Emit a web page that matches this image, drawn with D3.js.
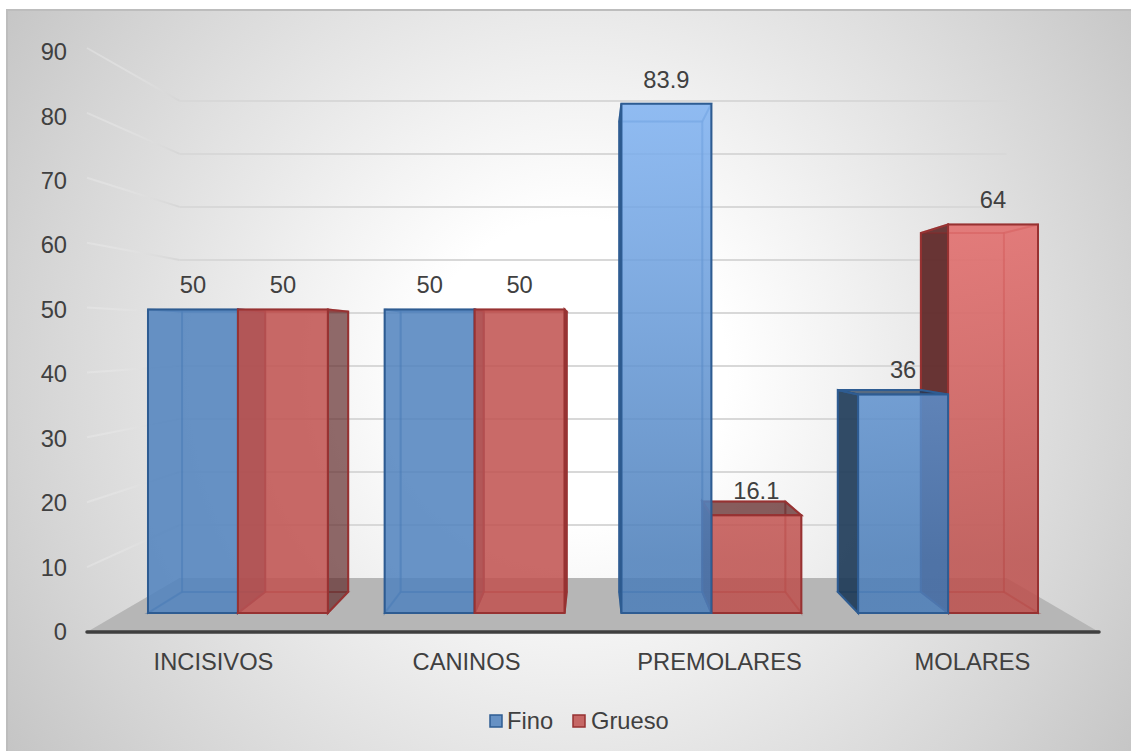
<!DOCTYPE html>
<html lang="es">
<head>
<meta charset="utf-8">
<title>Fino y Grueso por grupo dental</title>
<script src="https://cdn.jsdelivr.net/npm/d3@7"></script>
<style>
  html, body { margin: 0; padding: 0; background: #fff; }
  svg { display: block; }
  text { font-family: "Liberation Sans", Arial, sans-serif; font-size: 23.7px; fill: #404040; }
</style>
</head>
<body>
<div id="chart"></div>
<script>
// Chart values
const categories = ["INCISIVOS", "CANINOS", "PREMOLARES", "MOLARES"];
const fino = [50, 50, 83.9, 36];
const grueso = [50, 50, 16.1, 64];
const seriesNames = ["Fino", "Grueso"];
const yTicks = [0, 10, 20, 30, 40, 50, 60, 70, 80, 90];

const W = 1131, H = 751;
const svg = d3.select("#chart").append("svg").attr("width", W).attr("height", H);
const defs = svg.append("defs");

// Scales on the front plane of the 3-D box
const y = d3.scaleLinear().domain([0, 90]).range([632, 48]);
const x0 = d3.scaleBand().domain(categories).range([87, 1099]).paddingInner(0.24).paddingOuter(0.12);
const x1 = d3.scaleBand().domain(seriesNames).range([0, x0.bandwidth()]);
// Tick labels sit on a slightly tighter scale than the front plane
const yLabels = d3.scaleLinear().domain([0, 90]).range([632, 52]);

// Perspective: everything recedes toward a single vanishing point
const vanish = { x: 593, y: 337 };
const BACK_SCALE = 0.817, BAR_FRONT = 0.9356, BAR_BACK = 0.864;
const project = (px, py, s) => [vanish.x + (px - vanish.x) * s, vanish.y + (py - vanish.y) * s];
const polyPath = pts => d3.line()(pts) + "Z";

// Panel background
const bg = defs.append("radialGradient").attr("id", "panelBg")
  .attr("gradientUnits", "userSpaceOnUse").attr("cx", 575).attr("cy", 370).attr("r", 690);
[[0.22, "#ffffff"], [0.4, "#f2f2f2"], [0.6, "#e3e3e3"], [0.8, "#d4d4d4"], [1, "#c4c4c4"]]
  .forEach(([o, c]) => bg.append("stop").attr("offset", o).attr("stop-color", c));
svg.append("rect").attr("x", 7).attr("y", 10).attr("width", W).attr("height", H)
  .attr("fill", "url(#panelBg)").attr("stroke", "#bdbdbd").attr("stroke-width", 2);

// Side-wall fade for the gridlines
const fade = defs.append("linearGradient").attr("id", "wallFade")
  .attr("gradientUnits", "userSpaceOnUse").attr("x1", 87).attr("x2", 180).attr("y1", 0).attr("y2", 0);
fade.append("stop").attr("offset", 0).attr("stop-color", "#eeeeee").attr("stop-opacity", 0.35);
fade.append("stop").attr("offset", 1).attr("stop-color", "#d6d6d6");

// Floor of the box
svg.append("path").attr("fill", "#b6b6b6").attr("d", polyPath([
  project(87, y(0), 1), project(1099, y(0), 1),
  project(1099, y(0), BACK_SCALE), project(87, y(0), BACK_SCALE)
]));

// Gridlines: faded along the left wall, solid along the back wall
const grid = svg.append("g");
yTicks.filter(v => v > 0).forEach(v => {
  const a = project(87, y(v), 1), b = project(87, y(v), BACK_SCALE), c = project(1099, y(v), BACK_SCALE);
  grid.append("path").attr("d", d3.line()([a, b]))
    .attr("fill", "none").attr("stroke", "url(#wallFade)").attr("stroke-width", 2);
  grid.append("path").attr("d", d3.line()([b, c]))
    .attr("fill", "none").attr("stroke", "#d8d8d8").attr("stroke-width", 2);
});

// Face colours per series
const palette = {
  Fino:   { base: "#4f81bd", lit: "#7fb2f2", litEnd: "#4a7db9", edge: "#2e5c92", dark: "#1c3857" },
  Grueso: { base: "#c0504d", lit: "#f07373", litEnd: "#bd4f4c", edge: "#973232", dark: "#5a2020" }
};
const FRONT_ALPHA = 0.85;

seriesNames.forEach(name => {
  const g = defs.append("linearGradient").attr("id", "lit" + name)
    .attr("gradientUnits", "userSpaceOnUse").attr("x1", 0).attr("x2", 0).attr("y1", 100).attr("y2", 560);
  g.append("stop").attr("offset", 0).attr("stop-color", palette[name].lit);
  g.append("stop").attr("offset", 1).attr("stop-color", palette[name].litEnd);
});
const litCategories = new Set(["PREMOLARES", "MOLARES"]);

const bars = categories.flatMap((cat, i) => [
  { cat, name: "Fino", value: fino[i] },
  { cat, name: "Grueso", value: grueso[i] }
]);

// Draws one translucent box, back faces first and front face last
function drawBar(parent, d) {
  const left = x0(d.cat) + x1(d.name), right = left + x1.bandwidth();
  const top = y(d.value), base = y(0);
  const p = palette[d.name];
  const f = (px, py) => project(px, py, BAR_FRONT), b = (px, py) => project(px, py, BAR_BACK);
  const g = parent.append("g");

  const inner = pts => g.append("path").attr("d", polyPath(pts))
    .attr("fill", "#ffffff").attr("fill-opacity", 0.03)
    .attr("stroke", p.edge).attr("stroke-opacity", 0.35).attr("stroke-width", 2);
  const outer = (pts, alpha) => g.append("path").attr("d", polyPath(pts))
    .attr("fill", p.dark).attr("fill-opacity", alpha)
    .attr("stroke", p.edge).attr("stroke-width", 2);

  const faces = {
    left:   [f(left, top), b(left, top), b(left, base), f(left, base)],
    right:  [f(right, top), b(right, top), b(right, base), f(right, base)],
    top:    [f(left, top), f(right, top), b(right, top), b(left, top)],
    bottom: [f(left, base), f(right, base), b(right, base), b(left, base)]
  };

  // Back face and floor contact are seen through the front
  inner([b(left, top), b(right, top), b(right, base), b(left, base)]);
  inner(faces.bottom);

  // A side shows its outer surface only when it faces away from the vanishing point
  const leftOut = f(left, top)[0] > vanish.x;
  const rightOut = f(right, top)[0] < vanish.x;
  const topOut = f(left, top)[1] > vanish.y;
  leftOut ? outer(faces.left, 0.9) : inner(faces.left);
  rightOut ? outer(faces.right, 0.66) : inner(faces.right);
  topOut ? outer(faces.top, 0.72) : inner(faces.top);

  g.append("path").attr("d", polyPath([f(left, top), f(right, top), f(right, base), f(left, base)]))
    .attr("fill", litCategories.has(d.cat) ? `url(#lit${d.name})` : p.base)
    .attr("fill-opacity", FRONT_ALPHA)
    .attr("stroke", p.edge).attr("stroke-width", 2);
}

// Painter's order: boxes nearer the centre line cover their outer neighbours
const barLayer = svg.append("g");
categories.forEach(cat => {
  const pair = bars.filter(d => d.cat === cat);
  const centre = x0(cat) + x0.bandwidth() / 2;
  (centre < vanish.x ? pair : pair.slice().reverse()).forEach(d => drawBar(barLayer, d));
});

// Category baseline
svg.append("line").attr("x1", 87).attr("x2", 1099).attr("y1", y(0)).attr("y2", y(0))
  .attr("stroke", "#3f3f3f").attr("stroke-width", 3.5).attr("stroke-linecap", "round");

// Value axis
const yAxis = d3.axisLeft(yLabels).tickValues(yTicks).tickSize(0).tickPadding(0);
svg.append("g").attr("transform", "translate(67,0)").call(yAxis)
  .call(g => g.select(".domain").remove())
  .call(g => g.selectAll("text").attr("font-size", null).attr("font-family", null));

// Category axis
const xAxis = d3.axisBottom(x0).tickSize(0).tickPadding(0);
svg.append("g").attr("transform", "translate(0,651)").call(xAxis)
  .call(g => g.select(".domain").remove())
  .call(g => g.selectAll("text").attr("font-size", null).attr("font-family", null).attr("dy", "0.78em"));

// Value labels above each front face
svg.append("g").selectAll("text").data(bars).join("text")
  .attr("text-anchor", "middle")
  .attr("x", d => {
    const left = x0(d.cat) + x1(d.name);
    const lo = project(left, 0, BAR_FRONT)[0], hi = project(left + x1.bandwidth(), 0, BAR_FRONT)[0];
    return (lo + hi) / 2;
  })
  .attr("y", d => project(0, y(d.value), BAR_FRONT)[1] - 16)
  .text(d => d3.format(".3~f")(d.value));

// Legend
const legendItems = [
  { name: "Fino", sx: 490, tx: 507 },
  { name: "Grueso", sx: 573, tx: 591 }
];
const legend = svg.append("g");
legendItems.forEach(it => {
  const p = palette[it.name];
  legend.append("rect").attr("x", it.sx).attr("y", 715).attr("width", 12).attr("height", 12)
    .attr("fill", p.base).attr("fill-opacity", FRONT_ALPHA).attr("stroke", p.edge).attr("stroke-width", 1.5);
  legend.append("text").attr("x", it.tx).attr("y", 729).text(it.name);
});
</script>
</body>
</html>
